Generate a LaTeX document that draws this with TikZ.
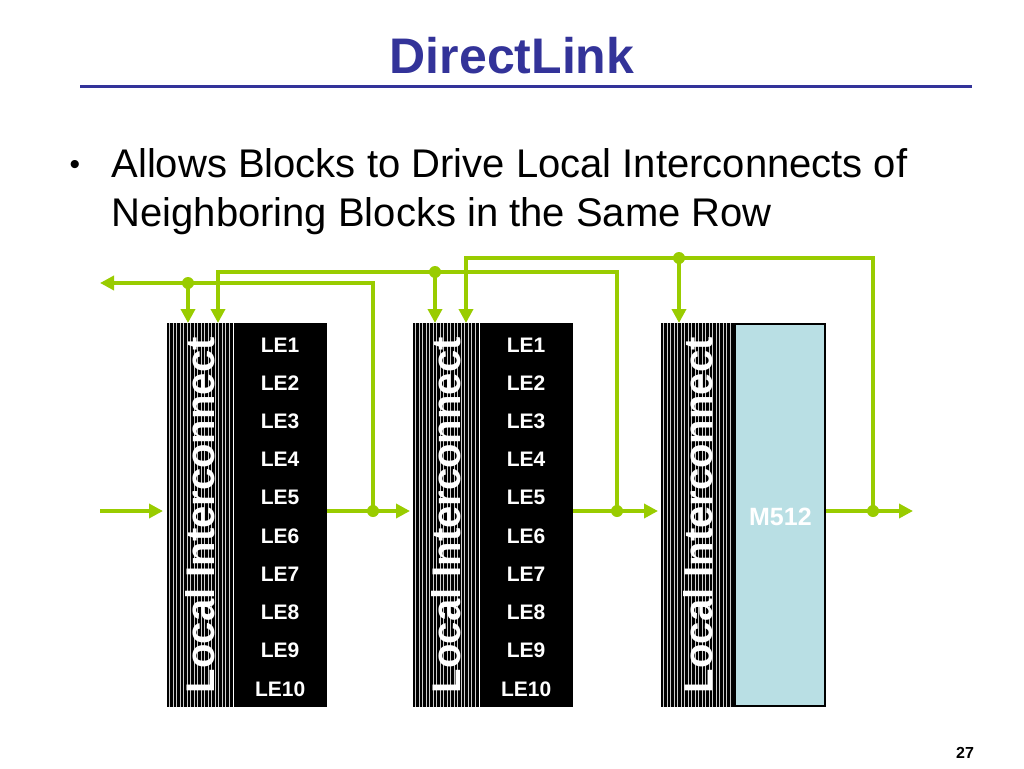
\documentclass[tikz,border=0pt]{standalone}
\usepackage{fontspec}
\setmainfont{Liberation Sans}
\usetikzlibrary{positioning}
\usetikzlibrary{calc}
\usetikzlibrary{arrows.meta}

\definecolor{titleblue}{HTML}{333399}
\definecolor{wiregreen}{HTML}{99CC00}
\definecolor{memblue}{HTML}{B9DFE4}

\tikzset{
	wire/.style = {draw = wiregreen, line width = 4pt},
	feed/.style = {wire, -{Triangle[length = 14pt, width = 14pt]}},
	joint/.style = {circle, fill = wiregreen, inner sep = 0pt, minimum size = 12pt},
	listrip/.style = {fill = black, inner sep = 0pt, minimum width = 66pt, minimum height = 384pt},
	lebox/.style = {fill = black, inner sep = 0pt, minimum width = 93pt, minimum height = 384pt},
	membox/.style = {draw = black, line width = 2pt, fill = memblue, inner sep = 0pt, minimum width = 90pt, minimum height = 382pt},
	stripe/.style = {white!80!black, line width = 0.9pt},
	lilabel/.style = {rotate = 90, text = white, font = \bfseries\fontsize{40}{40}\selectfont},
	lelabel/.style = {text = white, font = \bfseries\fontsize{21}{21}\selectfont},
	memlabel/.style = {text = white, font = \bfseries\fontsize{25}{25}\selectfont},
	bodytext/.style = {font = \fontsize{40}{49}\selectfont}
}

\begin{document}
\begin{tikzpicture}[x = 1pt, y = -1pt]
	\useasboundingbox (0, 0) rectangle (1024, 768);
	% title and rule
	\node [font = \bfseries\fontsize{50}{60}\selectfont, text = titleblue, anchor = base] (title) at (512, 73) {DirectLink};
	\draw [titleblue, line width = 3pt] (80, 86) -- (972, 86);
	% bullet
	\node [font = \fontsize{30}{36}\selectfont, anchor = base] (bullet) at (75, 174) {•};
	\node [bodytext, anchor = base west] (line1) at (108, 177) {Allows Blocks to Drive Local Interconnects of};
	\node [bodytext, anchor = base west] (line2) at (108, 226) {Neighboring Blocks in the Same Row};

	% blocks
	\node [listrip, anchor = north west] (li1) at (167, 323) {};
	\node [lebox, right = 0pt of li1] (le1) {};
	\node [listrip, anchor = north west] (li2) at (413, 323) {};
	\node [lebox, right = 0pt of li2] (le2) {};
	\node [listrip, minimum width = 73pt, anchor = north west] (li3) at (661, 323) {};
	\node [membox, right = 0pt of li3] (mem) {};

	\foreach \n / \m in {li1/18, li2/18, li3/20}
		\foreach \k in {1, ..., \m}
			\draw [stripe] ([xshift = \k*3.5pt - 1pt] \n.north west) -- ([xshift = \k*3.5pt - 1pt] \n.south west);

	\foreach \n in {li1, li2, li3}
		\node [lilabel] (\n-txt) at (\n.center) {Local Interconnect};

	\foreach \b in {le1, le2}
		\foreach \i in {1, ..., 10}
			\node [lelabel] (\b-\i) at ($(\b.north) + (0, {22 + 38.2*(\i-1)})$) {LE\i};

	\node [memlabel] (memtxt) at ($(mem.center) + (0, 2)$) {M512};

	% direct links
	\coordinate (in0) at (100, 511);
	\coordinate (back0) at (100, 283);
	\coordinate (turn2) at (218, 272);
	\coordinate (turn3) at (466, 258);
	\coordinate (out3) at (913, 511);
	\node [joint] (j1) at (373, 511) {};
	\node [joint] (j2) at (617, 511) {};
	\node [joint] (j3) at (873, 511) {};
	\node [joint] (t1) at (188, 283) {};
	\node [joint] (t2) at (435, 272) {};
	\node [joint] (t3) at (679, 258) {};

	\draw [feed, shorten > = 4pt] (in0) -- (li1.west |- in0);
	\draw [wire] (le1.east |- j1) -- (j1.center);
	\draw [feed, shorten > = 3pt] (j1.center) -- (li2.west |- j1);
	\draw [feed] (j1.center) |- (back0);
	\draw [feed] (t1.center) -- (t1 |- li1.north);

	\draw [wire] (le2.east |- j2) -- (j2.center);
	\draw [feed, shorten > = 3pt] (j2.center) -- (li3.west |- j2);
	\draw [feed] (j2.center) |- (turn2) -- (turn2 |- li1.north);
	\draw [feed] (t2.center) -- (t2 |- li2.north);

	\draw [wire] (mem.east |- j3) -- (j3.center);
	\draw [feed] (j3.center) -- (out3);
	\draw [feed] (j3.center) |- (turn3) -- (turn3 |- li2.north);
	\draw [feed] (t3.center) -- (t3 |- li3.north);

	% page number
	\node [font = \bfseries\fontsize{16}{16}\selectfont, anchor = base] (page) at (965, 758) {27};
\end{tikzpicture}
\end{document}
